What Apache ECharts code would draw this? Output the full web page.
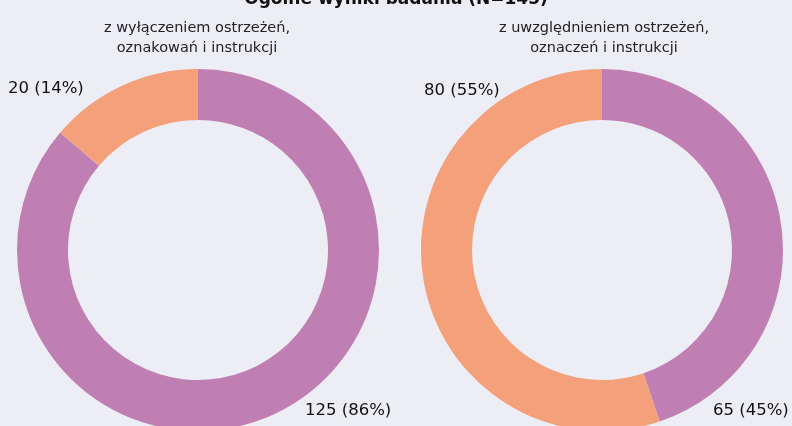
<!DOCTYPE html>
<html>
<head>
<meta charset="utf-8">
<script src="https://cdn.jsdelivr.net/npm/echarts@6/dist/echarts.min.js"></script>
<style>
  html, body { margin: 0; padding: 0; background: #EDEDF5; }
  #main { width: 792px; height: 426px; }
</style>
</head>
<body>
<div id="main"></div>
<script>
var chartTitle = 'Ogólne wyniki badania (N=145)';
var subtitles = ['z wyłączeniem ostrzeżeń,\noznakowań i instrukcji', 'z uwzględnieniem ostrzeżeń,\noznaczeń i instrukcji'];
var categories = ['Tak', 'Nie'];
var leftValues = [125, 20];
var rightValues = [65, 80];
var colors = ['#C07FB2', '#F4A07A'];

var fontName = 'DejaVu Sans';
var myChart = echarts.init(document.getElementById('main'));

// label spots (x, y) per series / slice
var labelSpots = [
    [[305, 411], [8, 89]],
    [[713, 411], [424, 91]]
];

function makeData(vals) {
    return vals.map(function (v, i) {
        return { name: categories[i], value: v, itemStyle: { color: colors[i] } };
    });
}

function makeSeries(vals, cx) {
    return {
        type: 'pie',
        radius: [130, 181],
        center: [cx, 250],
        startAngle: 90,
        clockwise: true,
        silent: true,
        data: makeData(vals),
        label: {
            show: true,
            position: 'inside',
            formatter: function (p) { return p.value + ' (' + Math.round(p.percent) + '%)'; },
            color: '#111',
            fontFamily: fontName,
            fontSize: 16.5
        },
        labelLine: { show: false },
        labelLayout: function (params) {
            var s = labelSpots[params.seriesIndex][params.dataIndex];
            return { x: s[0], y: s[1], align: 'left', verticalAlign: 'middle' };
        }
    };
}

option = {
    backgroundColor: '#EDEDF5',
    animation: false,
    title: [
        {
            text: chartTitle,
            left: 'center',
            top: -14,
            textStyle: { fontFamily: fontName, fontWeight: 'bold', fontSize: 17, color: '#111' }
        },
        {
            text: subtitles[0],
            left: 192,
            top: 13,
            textAlign: 'center',
            textStyle: { fontFamily: fontName, fontWeight: 'normal', fontSize: 14.5, lineHeight: 20, color: '#222' }
        },
        {
            text: subtitles[1],
            left: 599,
            top: 13,
            textAlign: 'center',
            textStyle: { fontFamily: fontName, fontWeight: 'normal', fontSize: 14.5, lineHeight: 20, color: '#222' }
        }
    ],
    series: [
        makeSeries(leftValues, 198),
        makeSeries(rightValues, 602)
    ]
};

myChart.setOption(option);
</script>
</body>
</html>
